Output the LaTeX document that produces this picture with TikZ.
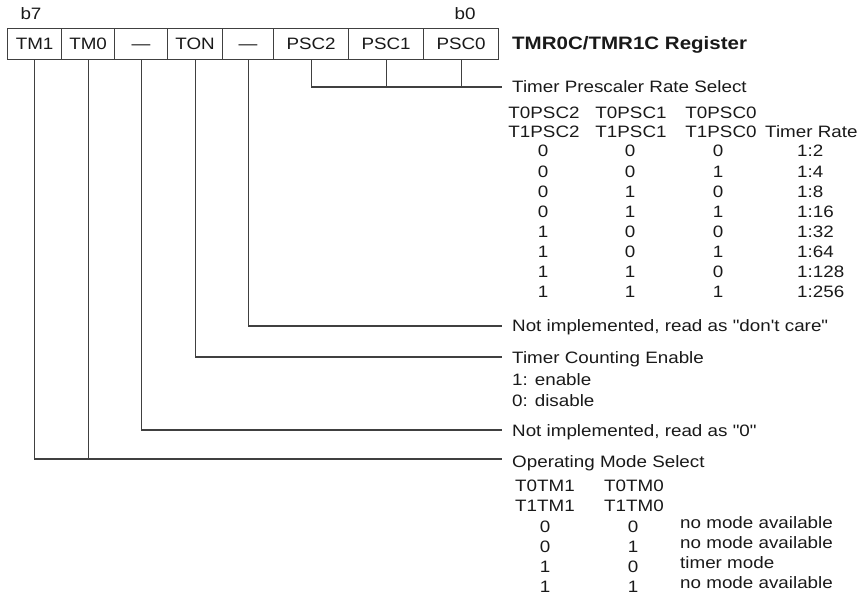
\documentclass[tikz,border=0pt]{standalone}
\usepackage{fontspec}
\setmainfont[FakeStretch=1.14,Ligatures=TeXOff]{Liberation Sans}
\begin{document}
\begin{tikzpicture}[x=1pt,y=-1pt,
  every node/.style={inner sep=0pt, font=\fontsize{16.5}{19}\selectfont, text=black!90},
  ln/.style={line width=1.2pt, draw=black!75},
  cell/.style={draw=black!75, line width=1.2pt, minimum height=31pt, anchor=north west, text height=11.8pt, text depth=0pt},
  txt/.style={anchor=base west},
  ctr/.style={anchor=base}]
\useasboundingbox (0,0) rectangle (867,596);
% bit labels
\node[ctr] (b7) at (31,20) {b7};
\node[ctr] (b0) at (465,20) {b0};
% register cells
\node[cell, minimum width=54pt] (c7) at (7,28) {TM1};
\node[cell, minimum width=53pt] (c6) at (61,28) {TM0};
\node[cell, minimum width=53pt] (c5) at (114,28) {—};
\node[cell, minimum width=55pt] (c4) at (167,28) {TON};
\node[cell, minimum width=51pt] (c3) at (222,28) {—};
\node[cell, minimum width=75pt] (c2) at (273,28) {PSC2};
\node[cell, minimum width=75pt] (c1) at (348,28) {PSC1};
\node[cell, minimum width=75pt] (c0) at (423,28) {PSC0};
\node[txt, font=\fontsize{18}{20}\selectfont\bfseries] (reg) at (512,50) {TMR0C/TMR1C Register};
% end points
\coordinate (ep) at (502,87);
\coordinate (e3) at (502,326);
\coordinate (e4) at (502,357);
\coordinate (e5) at (502,430);
\coordinate (em) at (502,459);
% connectors
\draw[ln] (c2.south) |- (ep);
\draw[ln] (c1.south) -- (c1.south |- ep);
\draw[ln] (c0.south) -- (c0.south |- ep);
\draw[ln] (c3.south) |- (e3);
\draw[ln] (c4.south) |- (e4);
\draw[ln] (c5.south) |- (e5);
\draw[ln] (c7.south) |- (em);
\draw[ln] (c6.south) -- (c6.south |- em);
% prescaler
\node[txt] (psel) at (512,93) {Timer Prescaler Rate Select};
\node[ctr] (h01) at (544,119) {T0PSC2};
\node[ctr] (h02) at (631,119) {T0PSC1};
\node[ctr] (h03) at (721,119) {T0PSC0};
\node[ctr] (h11) at (544,138) {T1PSC2};
\node[ctr] (h12) at (631,138) {T1PSC1};
\node[ctr] (h13) at (721,138) {T1PSC0};
\node[txt] (hr) at (765,138) {Timer Rate};
\foreach \a/\b/\c/\r [count=\i from 0] in {0/0/0/2,0/0/1/4,0/1/0/8,0/1/1/16,1/0/0/32,1/0/1/64,1/1/0/128,1/1/1/256}{
  \node[ctr] (pa\i) at (543,157+20.1*\i) {\a};
  \node[ctr] (pb\i) at (630,157+20.1*\i) {\b};
  \node[ctr] (pc\i) at (718,157+20.1*\i) {\c};
  \node[txt] (pr\i) at (797,157+20.1*\i) {1:\r};
}
% other fields
\node[txt] (dc) at (512,331.5) {Not implemented, read as "don't care"};
\node[txt] (ton) at (512,363) {Timer Counting Enable};
\node[txt] (ton1) at (512,385) {1: enable};
\node[txt] (ton0) at (512,406) {0: disable};
\node[txt] (z) at (512,436.5) {Not implemented, read as "0"};
\node[txt] (oms) at (512,467.5) {Operating Mode Select};
\node[ctr] (m01) at (545,491) {T0TM1};
\node[ctr] (m02) at (634,491) {T0TM0};
\node[ctr] (m11) at (545,511) {T1TM1};
\node[ctr] (m12) at (634,511) {T1TM0};
\foreach \a/\b/\t [count=\i from 0] in {0/0/no mode available,0/1/no mode available,1/0/timer mode,1/1/no mode available}{
  \node[ctr] (ma\i) at (545,532+20*\i) {\a};
  \node[ctr] (mb\i) at (633,532+20*\i) {\b};
  \node[txt] (mt\i) at (680,528+20*\i) {\t};
}
\end{tikzpicture}
\end{document}
